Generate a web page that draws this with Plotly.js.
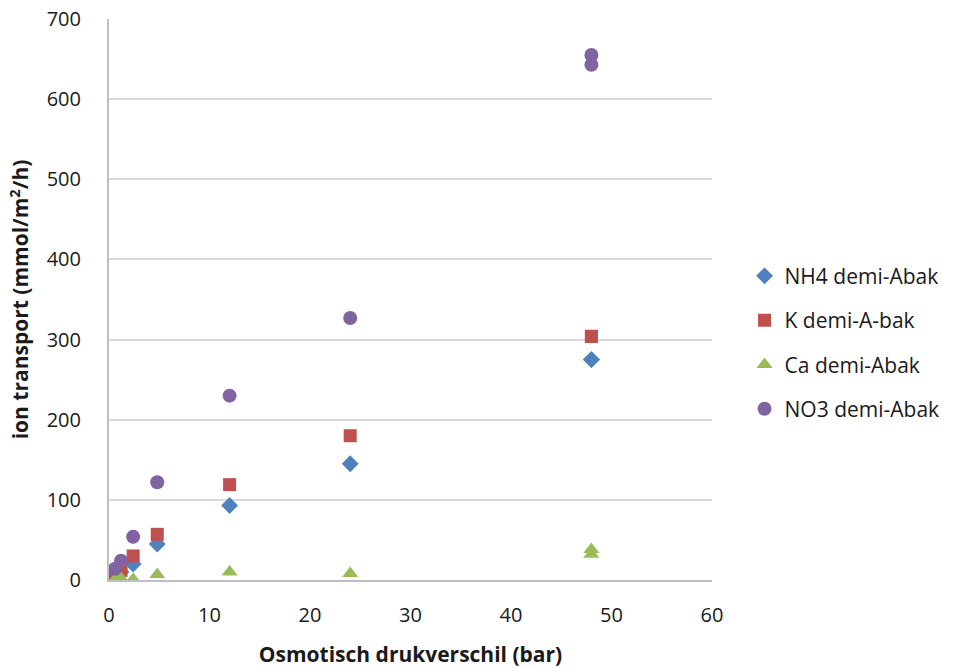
<!DOCTYPE html>
<html><head><meta charset="utf-8">
<script src="https://cdn.plot.ly/plotly-3.0.1.min.js"></script>
<style>body{margin:0;background:#fff}#c{width:957px;height:668px}</style>
</head><body><div id="c"></div>
<script>
const xVals = [0.6, 1.2, 2.4, 4.8, 12, 24, 48, 48];
const nh4 = [5, 10, 20, 45, 93, 145, 275, 275];
const k = [8, 12, 30, 57, 119, 180, 304, 304];
const ca = [1, 2, 1, 7, 10, 8, 38, 32];
const no3 = [14, 24, 54, 122, 230, 327, 655, 643];
const names = ["NH4 demi-Abak", "K demi-A-bak", "Ca demi-Abak", "NO3 demi-Abak"];
const colors = ["#4F81BD", "#C0504D", "#9BBB59", "#8064A2"];
const symbols = ["diamond", "square", "triangle-up", "circle"];
const sizes = [13, 13, 14, 14];
const series = [nh4, k, ca, no3];
const traces = series.map((s, i) => ({
  x: xVals, y: s, type: "scatter", mode: "markers", name: names[i],
  legendgroup: "g" + i,
  marker: {color: colors[i], symbol: symbols[i], size: sizes[i], line: {width: 0}}
}));
const font = {family: "Open Sans, DejaVu Sans, sans-serif", color: "#1a1a1a", size: 17};
Plotly.newPlot("c", traces, {
  width: 957, height: 668,
  margin: {l: 109, r: 245, t: 19, b: 88},
  paper_bgcolor: "#fff", plot_bgcolor: "#fff",
  font: font,
  showlegend: true,
  legend: {xref: "container", yref: "container", x: 0.778, xanchor: "left", y: 0.487, yanchor: "middle",
    font: {size: 21, color: "#1a1a1a"}, tracegroupgap: 14, traceorder: "grouped", itemwidth: 30, itemsizing: "trace"},
  xaxis: {range: [0, 60], dtick: 10, showgrid: false, zeroline: false, showline: true, linecolor: "#bfbfbf", linewidth: 2,
    ticks: "", ticklabelstandoff: 16, tickfont: {size: 20, color: "#1a1a1a"},
    title: {text: "<b>Osmotisch drukverschil (bar)</b>", font: {size: 21, color: "#1a1a1a"}, standoff: 20}},
  yaxis: {range: [0, 700], dtick: 100, showgrid: true, gridcolor: "#d9d9d9", gridwidth: 2, zeroline: false, showline: true, linecolor: "#bfbfbf", linewidth: 2,
    ticks: "", ticklabelstandoff: 22, tickfont: {size: 20, color: "#1a1a1a"},
    title: {text: "<b>ion transport (mmol/m<sup>2</sup>/h)</b>", font: {size: 21, color: "#1a1a1a"}, standoff: 12}}
}, {displayModeBar: false});
</script></body></html>
